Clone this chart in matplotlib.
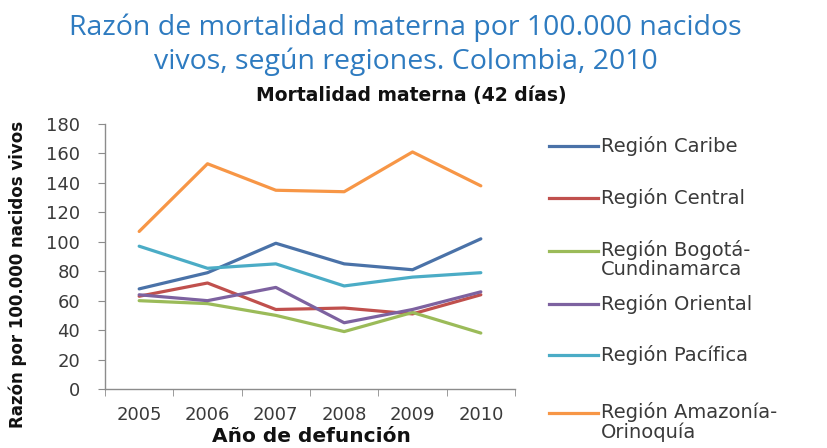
import matplotlib
matplotlib.use("Agg")
import matplotlib.pyplot as plt
from matplotlib.lines import Line2D

years = ["2005", "2006", "2007", "2008", "2009", "2010"]
caribe = [68, 79, 99, 85, 81, 102]
central = [63, 72, 54, 55, 51, 64]
bogota = [60, 58, 50, 39, 52, 38]
oriental = [64, 60, 69, 45, 54, 66]
pacifica = [97, 82, 85, 70, 76, 79]
amazonia = [107, 153, 135, 134, 161, 138]

series_names = ["Región Caribe", "Región Central", "Región Bogotá-\nCundinamarca",
                "Región Oriental", "Región Pacífica", "Región Amazonía-\nOrinoquía"]
series_vals = [caribe, central, bogota, oriental, pacifica, amazonia]
colors = ["#4a72a8", "#c0504d", "#9bbb59", "#7d62a0", "#4bacc6", "#f79646"]

yticks = [0, 20, 40, 60, 80, 100, 120, 140, 160, 180]

W, H = 828, 448
fig = plt.figure(figsize=(W / 100, H / 100), dpi=100)
ax = fig.add_axes([105 / W, 1 - 389 / H, (515 - 105) / W, (389 - 124) / H])

x = list(range(len(years)))
for vals, c in zip(series_vals, colors):
    ax.plot(x, vals, color=c, lw=2.3, solid_capstyle="round")

ax.set_xlim(-0.5, len(years) - 0.5)
ax.set_ylim(0, 180)
ax.set_yticks(yticks)
ax.set_xticks(x)
ax.set_xticklabels(years)
ax.set_xticks([i - 0.5 for i in range(len(years) + 1)], minor=True)
for s in ["top", "right"]:
    ax.spines[s].set_visible(False)
for s in ["left", "bottom"]:
    ax.spines[s].set_color("#8c8c8c")
    ax.spines[s].set_linewidth(1.0)
ax.tick_params(axis="x", which="major", length=0, pad=12, labelsize=13, labelcolor="#3a3a3a")
ax.tick_params(axis="x", which="minor", length=5, color="#8c8c8c", direction="out")
ax.tick_params(axis="y", length=5, color="#8c8c8c", direction="out", pad=13,
               labelsize=13, labelcolor="#3a3a3a")
for lab in ax.get_xticklabels() + ax.get_yticklabels():
    lab.set_family("DejaVu Sans")

# Titles
fig.text(0.49, 1 - 28 / H, "Razón de mortalidad materna por 100.000 nacidos",
         ha="center", va="center", fontsize=20.5, color="#2e7bc0", family="Open Sans")
fig.text(0.49, 1 - 62 / H, "vivos, según regiones. Colombia, 2010",
         ha="center", va="center", fontsize=20.5, color="#2e7bc0", family="Open Sans")
fig.text(411 / W, 1 - 96 / H, "Mortalidad materna (42 días)", ha="center", va="center",
         fontsize=13.5, fontweight="bold", color="#111111", family="DejaVu Sans")

# Axis labels
fig.text(311 / W, 1 - 436 / H, "Año de defunción", ha="center", va="center",
         fontsize=14.5, fontweight="bold", color="#111111", family="DejaVu Sans")
fig.text(18 / W, 1 - 274 / H, "Razón por 100.000 nacidos vivos", ha="center", va="center",
         rotation=90, fontsize=12, fontweight="bold", color="#111111", family="DejaVu Sans")

# Legend (drawn manually to match layout)
leg_y = [146, 198, 251, 304, 355, 413]
for name, c, yy in zip(series_names, colors, leg_y):
    fy = 1 - yy / H
    fig.add_artist(Line2D([549 / W, 598 / W], [fy, fy], color=c, lw=2.3,
                          transform=fig.transFigure))
    if "\n" in name:
        fig.text(601 / W, 1 - (yy - 11) / H, name, ha="left", va="top",
                 fontsize=14, color="#3a3a3a", family="DejaVu Sans", linespacing=1.0)
    else:
        fig.text(601 / W, fy, name, ha="left", va="center",
                 fontsize=14, color="#3a3a3a", family="DejaVu Sans")

fig.savefig("out.png", dpi=100)
